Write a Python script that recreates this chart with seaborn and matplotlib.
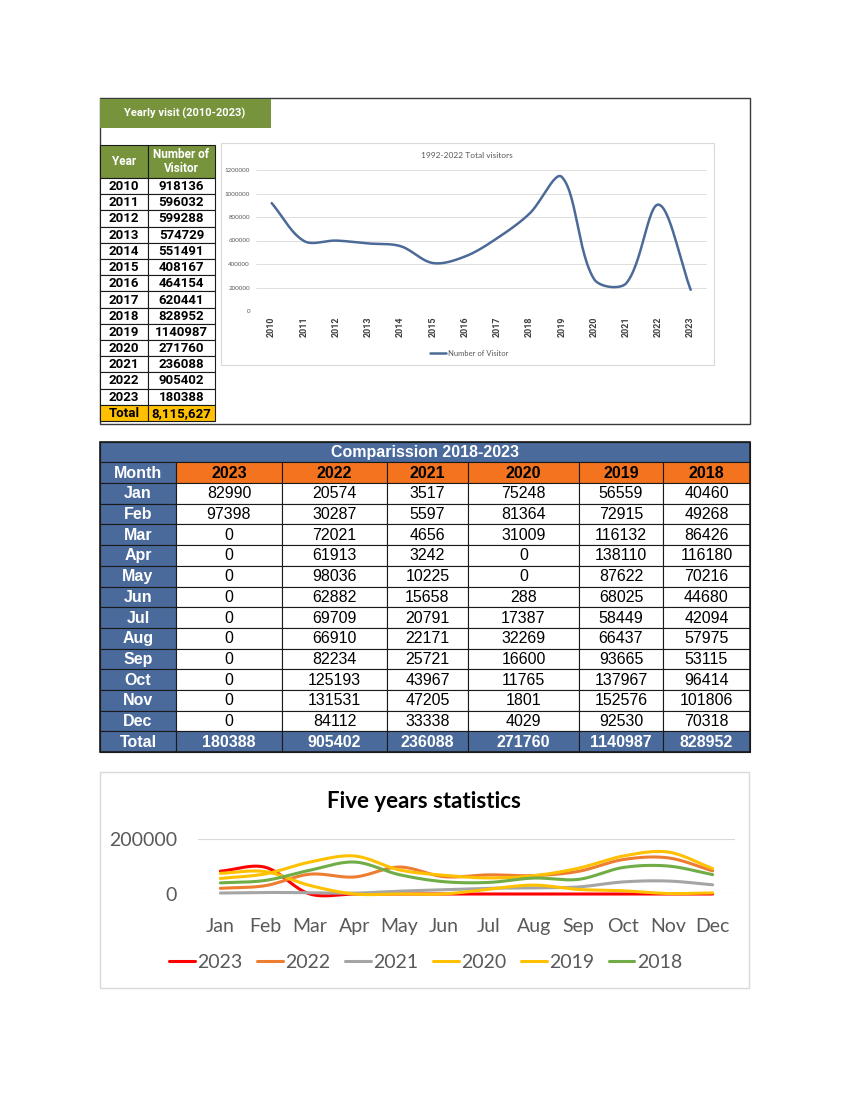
import numpy as np
import pandas as pd
import matplotlib
matplotlib.use("Agg")
import matplotlib.pyplot as plt
import seaborn as sns
from matplotlib.patches import Rectangle

# ---------------- data ----------------
years = list(range(2010, 2024))
visitors = [918136, 596032, 599288, 574729, 551491, 408167, 464154,
            620441, 828952, 1140987, 271760, 236088, 905402, 180388]
yearly_total_label = "8,115,627"

months = ["Jan", "Feb", "Mar", "Apr", "May", "Jun",
          "Jul", "Aug", "Sep", "Oct", "Nov", "Dec"]
series_years = ["2023", "2022", "2021", "2020", "2019", "2018"]
v2023 = [82990, 97398, 0, 0, 0, 0, 0, 0, 0, 0, 0, 0]
v2022 = [20574, 30287, 72021, 61913, 98036, 62882, 69709, 66910, 82234, 125193, 131531, 84112]
v2021 = [3517, 5597, 4656, 3242, 10225, 15658, 20791, 22171, 25721, 43967, 47205, 33338]
v2020 = [75248, 81364, 31009, 0, 0, 288, 17387, 32269, 16600, 11765, 1801, 4029]
v2019 = [56559, 72915, 116132, 138110, 87622, 68025, 58449, 66437, 93665, 137967, 152576, 92530]
v2018 = [40460, 49268, 86426, 116180, 70216, 44680, 42094, 57975, 53115, 96414, 101806, 70318]
totals = [180388, 905402, 236088, 271760, 1140987, 828952]

monthly = {"2023": v2023, "2022": v2022, "2021": v2021,
           "2020": v2020, "2019": v2019, "2018": v2018}
line_colors = {"2023": "#FF0000", "2022": "#ED7D31", "2021": "#A5A5A5",
               "2020": "#FFC000", "2019": "#FFC000", "2018": "#70AD47"}

# ---------------- helpers ----------------
W, H = 850, 1095
sns.set_theme(style="white")
plt.rcParams["font.family"] = ["Lato", "DejaVu Sans"]

fig = plt.figure(figsize=(W / 100, H / 100), dpi=100)
fig.patch.set_facecolor("white")


def rect(x0, y0, x1, y1):
    return [x0 / W, 1 - y1 / H, (x1 - x0) / W, (y1 - y0) / H]


def smooth(xv, yv, sx, sy, n=30):
    """Excel-like smoothed line: cubic Bezier through the points, control
    points weighted by on-screen segment lengths (sx, sy = px per unit)."""
    P = np.column_stack([np.asarray(xv, float), np.asarray(yv, float)])
    Pp = np.vstack([P[0], P, P[-1]])
    scale = np.array([sx, sy])
    d = np.linalg.norm(np.diff(Pp, axis=0) * scale, axis=1)  # len = N+1
    t = np.linspace(0, 1, n)[:, None]
    out = []
    for i in range(len(P) - 1):
        p0, p3 = Pp[i + 1], Pp[i + 2]
        dprev, dcur, dnext = d[i], d[i + 1], d[i + 2]
        f1 = dcur / (dprev + dcur) / 3 if dprev + dcur > 0 else 0
        f2 = dcur / (dcur + dnext) / 3 if dcur + dnext > 0 else 0
        c1 = p0 + (Pp[i + 2] - Pp[i]) * f1
        c2 = p3 - (Pp[i + 3] - Pp[i + 1]) * f2
        seg = ((1 - t) ** 3) * p0 + 3 * ((1 - t) ** 2) * t * c1 \
            + 3 * (1 - t) * t ** 2 * c2 + t ** 3 * p3
        out.append(seg if i == 0 else seg[1:])
    out = np.vstack(out)
    return out[:, 0], out[:, 1]


# overlay axes in pixel coordinates for boxes / tables
ov = fig.add_axes([0, 0, 1, 1], zorder=0)
ov.set_xlim(0, W)
ov.set_ylim(H, 0)
ov.axis("off")


def cell(x0, y0, x1, y1, fc, ec="#1a1a1a", lw=0.8, z=1):
    ov.add_patch(Rectangle((x0, y0), x1 - x0, y1 - y0, facecolor=fc,
                           edgecolor=ec, lw=lw, zorder=z))


narrow = ["Roboto", "DejaVu Sans"]
arial = ["Liberation Sans", "DejaVu Sans"]

# ================= TOP PANEL =================
ov.add_patch(Rectangle((100, 98), 650, 326, facecolor="white",
                       edgecolor="#3a3a3a", lw=1.0, zorder=0.5))
cell(100, 99, 271, 128, "#77933C", ec="#77933C", lw=0)
ov.text(185, 113.5, "Yearly visit (2010-2023)", color="white", fontsize=8,
        fontweight="bold", family=narrow, ha="center", va="center", zorder=3)

# yearly table
tx = [100, 148, 215]
ty0, rh = 178, 16.2
cell(tx[0], 145, tx[1], ty0, "#77933C")
cell(tx[1], 145, tx[2], ty0, "#77933C")
ov.text((tx[0] + tx[1]) / 2, 161.5, "Year", color="white", fontsize=8.5,
        fontweight="bold", family=narrow, ha="center", va="center", zorder=3)
ov.text((tx[1] + tx[2]) / 2, 161.5, "Number of\nVisitor", color="white", fontsize=8.5,
        fontweight="bold", family=narrow, ha="center", va="center",
        linespacing=1.1, zorder=3)
rows = [(str(y), str(v)) for y, v in zip(years, visitors)] + [("Total", yearly_total_label)]
for i, (a, b) in enumerate(rows):
    y0 = ty0 + i * rh
    fc = "#FFC000" if a == "Total" else "white"
    cell(tx[0], y0, tx[1], y0 + rh, fc)
    cell(tx[1], y0, tx[2], y0 + rh, fc)
    ov.text((tx[0] + tx[1]) / 2, y0 + rh / 2 + 0.5, a, fontsize=9.5, fontweight="bold",
            family=narrow, ha="center", va="center", color="black", zorder=3)
    ov.text((tx[1] + tx[2]) / 2, y0 + rh / 2 + 0.5, b, fontsize=9.5, fontweight="bold",
            family=narrow, ha="center", va="center", color="black", zorder=3)

# inner chart box
ov.add_patch(Rectangle((221, 143), 493, 222, facecolor="white",
                       edgecolor="#D9D9D9", lw=0.8, zorder=0.8))
ov.text(467, 155.5, "1992-2022 Total visitors", fontsize=6, color="#595959",
        ha="center", va="center", zorder=3)

ax1 = fig.add_axes(rect(255.6, 170, 706.8, 311), zorder=2)
ax1.patch.set_alpha(0)
xi = np.arange(len(years))
sx, sy = smooth(xi, visitors, (706.8 - 255.6) / len(years), 141 / 1200000)
sns.lineplot(x=sx, y=sy, ax=ax1, color="#4C6A97", lw=1.8, sort=False,
             estimator=None, label="Number of Visitor", legend=False)
ax1.set_xlim(-0.5, len(years) - 0.5)
ax1.set_ylim(0, 1200000)
ax1.set_yticks(np.arange(0, 1200001, 200000))
ax1.set_yticklabels([str(v) for v in range(0, 1200001, 200000)],
                    fontsize=4.5, color="#595959")
ax1.set_xticks(xi)
ax1.set_xticklabels([str(y) for y in years], rotation=90, fontsize=6.5,
                    fontweight="bold", color="#404040", family=narrow)
ax1.tick_params(axis="both", length=0)
ax1.tick_params(axis="y", pad=4)
ax1.tick_params(axis="x", pad=4)
ax1.grid(axis="y", color="#D9D9D9", lw=0.6)
ax1.grid(axis="x", visible=False)
for s in ax1.spines.values():
    s.set_visible(False)
ax1.set_xlabel("")
ax1.set_ylabel("")
h, l = ax1.get_legend_handles_labels()
ax1.legend(h, l, loc="center", bbox_to_anchor=(469 / W, 1 - 353.5 / H),
           bbox_transform=fig.transFigure, frameon=False, fontsize=5.5,
           handlelength=2.2, handletextpad=0.2, labelcolor="#595959")

# ================= MIDDLE TABLE =================
cx = [100, 176, 282, 387, 468, 579, 663, 750]
blue = "#4A6A9B"
orange = "#F4731F"
cell(100, 442, 750, 462, blue)
ov.text(425, 452.5, "Comparission 2018-2023", color="white", fontsize=11.5,
        fontweight="bold", family=arial, ha="center", va="center", zorder=3)
hy0, hy1 = 462, 483
cell(cx[0], hy0, cx[1], hy1, blue)
ov.text((cx[0] + cx[1]) / 2, (hy0 + hy1) / 2 + 0.5, "Month", color="white",
        fontsize=11.5, fontweight="bold", family=arial, ha="center", va="center", zorder=3)
for j, yr in enumerate(series_years):
    cell(cx[j + 1], hy0, cx[j + 2], hy1, orange)
    ov.text((cx[j + 1] + cx[j + 2]) / 2, (hy0 + hy1) / 2 + 0.5, yr, color="black",
            fontsize=11.5, fontweight="bold", family=arial, ha="center", va="center", zorder=3)
mrh = (731.4 - 483) / 12
for i, m in enumerate(months):
    y0 = 483 + i * mrh
    cell(cx[0], y0, cx[1], y0 + mrh, blue)
    ov.text((cx[0] + cx[1]) / 2, y0 + mrh / 2 + 0.5, m, color="white", fontsize=11.5,
            fontweight="bold", family=arial, ha="center", va="center", zorder=3)
    for j, yr in enumerate(series_years):
        cell(cx[j + 1], y0, cx[j + 2], y0 + mrh, "white")
        ov.text((cx[j + 1] + cx[j + 2]) / 2, y0 + mrh / 2 + 0.5, str(monthly[yr][i]),
                color="black", fontsize=11.5, family=arial, ha="center", va="center", zorder=3)
ty = 731.4
cell(cx[0], ty, cx[1], 752, blue)
ov.text((cx[0] + cx[1]) / 2, (ty + 752) / 2 + 0.5, "Total", color="white", fontsize=11.5,
        fontweight="bold", family=arial, ha="center", va="center", zorder=3)
for j, tval in enumerate(totals):
    cell(cx[j + 1], ty, cx[j + 2], 752, blue)
    ov.text((cx[j + 1] + cx[j + 2]) / 2, (ty + 752) / 2 + 0.5, str(tval), color="white",
            fontsize=11.5, fontweight="bold", family=arial, ha="center", va="center", zorder=3)
ov.add_patch(Rectangle((100, 442), 650, 310, facecolor="none",
                       edgecolor="#1a1a1a", lw=1.2, zorder=2))

# ================= BOTTOM CHART =================
ov.add_patch(Rectangle((100, 772), 649, 216, facecolor="white",
                       edgecolor="#D9D9D9", lw=1.0, zorder=0.5))
ov.text(424, 801, "Five years statistics", fontsize=16, fontweight="bold",
        color="black", ha="center", va="center", zorder=3)

ax2 = fig.add_axes(rect(198, 839, 735, 894), zorder=2)
ax2.patch.set_alpha(0)
mi = np.arange(len(months))
for yr in series_years:
    sx2, sy2 = smooth(mi, monthly[yr], (735 - 198) / 12, 55 / 200000)
    sns.lineplot(x=sx2, y=sy2, ax=ax2, color=line_colors[yr], lw=2.2, sort=False,
                 estimator=None, label=yr, legend=False)
for ln in ax2.get_lines():
    ln.set_clip_on(False)
ax2.set_xlim(-0.5, len(months) - 0.5)
ax2.set_ylim(0, 200000)
ax2.set_yticks([0, 200000])
ax2.set_yticklabels(["0", "200000"], fontsize=14, color="#595959")
ax2.set_xticks(mi)
ax2.set_xticklabels(months, fontsize=14, color="#595959")
ax2.tick_params(axis="both", length=0)
ax2.tick_params(axis="x", pad=17)
ax2.tick_params(axis="y", pad=15)
ax2.grid(axis="y", color="#D9D9D9", lw=0.8)
ax2.grid(axis="x", visible=False)
for s in ax2.spines.values():
    s.set_visible(False)
ax2.set_xlabel("")
ax2.set_ylabel("")
h2, l2 = ax2.get_legend_handles_labels()
ax2.legend(h2, l2, loc="center", bbox_to_anchor=(426 / W, 1 - 962 / H),
           bbox_transform=fig.transFigure, ncol=6, frameon=False, fontsize=14,
           handlelength=1.3, handletextpad=0.15, columnspacing=0.75,
           labelcolor="#595959")

fig.savefig("out.png", dpi=100, facecolor="white")
